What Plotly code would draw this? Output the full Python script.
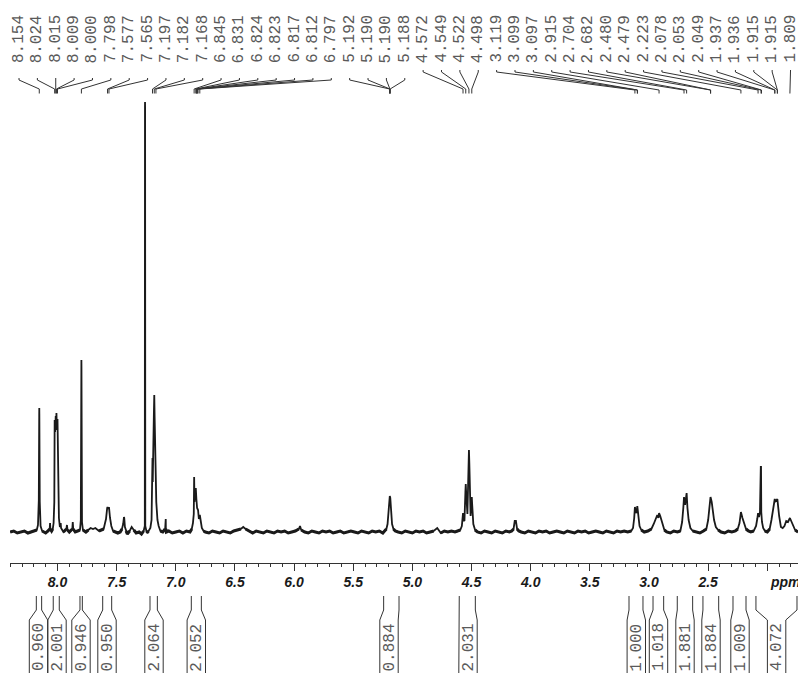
import plotly.graph_objects as go

# spectrum (ppm, height above baseline)
ppm = [8.40, 8.37, 8.34, 8.31, 8.28, 8.25, 8.22, 8.19, 8.175, 8.165, 8.158, 8.1545, 8.154, 8.1535, 8.150, 8.143, 8.13,
       8.10, 8.08, 8.066, 8.063, 8.060, 8.05, 8.04, 8.033, 8.027, 8.024, 8.020, 8.015, 8.012, 8.009, 8.005, 8.000, 7.995, 7.988, 7.98,
       7.975, 7.973, 7.970, 7.95, 7.925, 7.92, 7.915, 7.90, 7.875, 7.871, 7.867, 7.85, 7.83, 7.81, 7.803, 7.7985, 7.798, 7.7975, 7.793, 7.785,
       7.76, 7.74, 7.72, 7.70, 7.68, 7.65, 7.63, 7.61, 7.60, 7.59, 7.58, 7.577, 7.571, 7.565, 7.556, 7.545, 7.53, 7.51,
       7.49, 7.47, 7.455, 7.445, 7.44, 7.438, 7.436, 7.43, 7.42, 7.41, 7.39, 7.373, 7.355, 7.335, 7.31, 7.29, 7.272, 7.262, 7.2605, 7.26, 7.2595, 7.258,
       7.245, 7.23, 7.215, 7.205, 7.199, 7.197, 7.195, 7.185, 7.182, 7.179, 7.171, 7.168, 7.165, 7.155, 7.145, 7.13, 7.11, 7.09, 7.086, 7.085, 7.084, 7.08,
       7.06, 7.03, 7.00, 6.97, 6.94, 6.91, 6.88, 6.865, 6.855, 6.848, 6.845, 6.842, 6.835, 6.831, 6.826, 6.82, 6.812, 6.805, 6.797, 6.79, 6.78, 6.765, 6.75,
       6.72, 6.69, 6.66, 6.63, 6.60, 6.57, 6.54, 6.51, 6.48, 6.45, 6.43, 6.41, 6.38, 6.35, 6.32, 6.29, 6.26, 6.23, 6.20, 6.17, 6.14, 6.11, 6.08, 6.05, 6.02,
       5.99, 5.96, 5.95, 5.94, 5.91, 5.88, 5.85, 5.82, 5.79, 5.76, 5.73, 5.70, 5.67, 5.64, 5.61, 5.58, 5.55, 5.52, 5.49, 5.46, 5.43, 5.40, 5.37, 5.34, 5.31, 5.28, 5.25,
       5.235, 5.22, 5.21, 5.20, 5.195, 5.191, 5.187, 5.182, 5.172, 5.16, 5.145, 5.12, 5.09, 5.06, 5.03, 5.00, 4.97, 4.94, 4.91, 4.88, 4.85, 4.82, 4.79, 4.76, 4.73, 4.70, 4.67, 4.64, 4.61,
       4.595, 4.582, 4.575, 4.572, 4.569, 4.56, 4.552, 4.549, 4.546, 4.535, 4.525, 4.522, 4.519, 4.508, 4.501, 4.498, 4.495, 4.485, 4.47, 4.45,
       4.42, 4.39, 4.36, 4.33, 4.30, 4.27, 4.24, 4.21, 4.18, 4.16, 4.145, 4.135, 4.125, 4.115, 4.10, 4.08,
       4.05, 4.02, 3.99, 3.96, 3.93, 3.90, 3.87, 3.84, 3.81, 3.78, 3.75, 3.72, 3.69, 3.66, 3.63, 3.60, 3.57, 3.54, 3.51, 3.48, 3.45, 3.42, 3.39, 3.36, 3.33, 3.30, 3.27, 3.24, 3.21, 3.18, 3.15,
       3.135, 3.125, 3.119, 3.112, 3.105, 3.099, 3.09, 3.08, 3.065, 3.04, 3.01, 2.98, 2.96, 2.945, 2.93, 2.92, 2.915, 2.905, 2.895, 2.885, 2.87, 2.85, 2.82, 2.79, 2.76, 2.735,
       2.72, 2.71, 2.704, 2.695, 2.688, 2.682, 2.675, 2.665, 2.65, 2.63, 2.60, 2.57, 2.54, 2.515, 2.50, 2.49, 2.48, 2.47, 2.46, 2.45, 2.435, 2.415, 2.39, 2.36, 2.33, 2.30, 2.27,
       2.25, 2.235, 2.223, 2.21, 2.195, 2.18, 2.16, 2.14, 2.115, 2.095, 2.085, 2.078, 2.07, 2.062, 2.055, 2.053, 2.051, 2.045, 2.035, 2.02, 2.00,
       1.98, 1.965, 1.95, 1.937, 1.93, 1.915, 1.90, 1.885, 1.87, 1.855, 1.84, 1.825, 1.809, 1.795, 1.78, 1.765, 1.74]
intensity = [0, 1, -1, 0, 1, -1, 0, 1, 2, 7, 32, 118, 124, 118, 30, 6, 1,
             -1, 1, 3, 9, 3, 1, 3, 9, 30, 112, 100, 116, 106, 119, 102, 113, 34, 14, 5,
             6, 9, 4, 0, 3, 7, 2, 0, 3, 10, 3, 0, 1, 2, 12, 165, 172, 165, 10, 2,
             0, 2, 4, 3, 4, 1, 2, 3, 8, 13, 24, 25, 23, 25, 14, 6, 1, 0,
             -1, 0, 3, 8, 14, 15, 14, 5, 1, -2, 1, 5, 2, -1, 0, -2, 1, 6, 425, 430, 425, 6,
             -1, 1, 4, 12, 60, 74, 50, 120, 137, 115, 52, 72, 30, 12, 6, 1, 0, 3, 13, 13, 3, 0,
             1, -1, 0, 1, -1, 1, 0, 3, 9, 18, 55, 30, 42, 44, 33, 24, 22, 13, 17, 10, 4, 1, 0,
             -1, 1, 0, -1, 1, 0, -1, 1, 2, 3, 5, 3, 1, -1, 1, 0, -1, 1, 0, -1, 1, 0, 1, -1, 0,
             1, 3, 6, 2, 0, -1, 1, 0, -1, 1, 0, 1, -1, 0, 1, -1, 0, 1, 0, -1, 1, 0, -1, 1, 0, 1, -1,
             1, 3, 8, 22, 35, 36, 34, 20, 8, 3, 1, 0, -1, 1, 0, -1, 1, 0, 1, -1, 0, 1, 4, -1, 1, 0, 1, 0, 1,
             2, 6, 12, 19, 12, 11, 40, 48, 40, 18, 72, 82, 70, 16, 28, 35, 28, 8, 2, 0,
             -1, 1, 0, -1, 1, 0, -1, 1, 0, 1, 3, 11, 11, 3, 1, 0,
             -1, 1, 0, -1, 1, 0, 1, -1, 0, 1, 0, -1, 1, 0, -1, 1, 0, 1, -1, 0, 1, 0, -1, 1, 0, -1, 1, 0, 1, 0, 1,
             4, 14, 25, 20, 19, 26, 16, 6, 2, 0, 1, 3, 8, 13, 17, 14, 19, 16, 12, 6, 2, 0, -1, 1, 0, 1,
             10, 24, 35, 27, 33, 39, 24, 12, 4, 1, 0, -1, 1, 3, 12, 22, 35, 30, 20, 12, 5, 2, 0, -1, 1, 0, 1,
             3, 9, 20, 14, 8, 3, 1, 0, 1, 6, 13, 19, 15, 20, 65, 65, 20, 10, 4, 1, 0,
             3, 12, 24, 33, 31, 33, 16, 5, 4, 6, 11, 10, 14, 10, 5, 2, 0]

shift_ticks = [8.0, 7.5, 7.0, 6.5, 6.0, 5.5, 5.0, 4.5, 4.0, 3.5, 3.0, 2.5, 2.0]
shift_ticktext = ["8.0", "7.5", "7.0", "6.5", "6.0", "5.5", "5.0", "4.5", "4.0", "3.5", "3.0", "2.5", ""]

peak_labels = ["8.154", "8.024", "8.015", "8.009", "8.000", "7.798", "7.577", "7.565", "7.197", "7.182", "7.168",
               "6.845", "6.831", "6.824", "6.823", "6.817", "6.812", "6.797", "5.192", "5.190", "5.190", "5.188",
               "4.572", "4.549", "4.522", "4.498", "3.119", "3.099", "3.097", "2.915", "2.704", "2.682", "2.480",
               "2.479", "2.223", "2.078", "2.053", "2.049", "1.937", "1.936", "1.915", "1.915", "1.809"]

integral_values = ["0.960", "2.001", "0.946", "0.950", "2.064", "2.052", "0.884", "2.031",
                   "1.000", "1.018", "1.881", "1.884", "1.009", "4.072"]
integral_from = [8.179, 8.036, 7.810, 7.618, 7.218, 6.869, 5.243, 4.604, 3.169, 2.966, 2.761, 2.544, 2.290, 2.096]
integral_to = [8.134, 7.985, 7.790, 7.542, 7.156, 6.784, 5.113, 4.468, 3.051, 2.876, 2.631, 2.411, 2.180, 1.749]

# page layout in pixels
W, H = 798, 673
PX_PER_PPM = 118.3
BASE_Y = 532
AXIS_Y = 562.5
label_centers = [38.5, 57, 81, 107, 154, 196.3, 389, 468, 636.3, 658.5, 685, 711, 740, 776.6]
GREY = "#5a5a5a"
DARK = "#1a1a1a"


def to_ppm(px):
    return 8.0 + (57.5 - px) / PX_PER_PPM


def to_y(py):
    return BASE_Y - py


# leader lines from the peak labels down to the spectrum positions
lead_x, lead_y = [], []
annotations = []
for i, lab in enumerate(peak_labels):
    lx = to_ppm(19 + 18.37 * i)
    top = 78 if i < 22 else 70
    mid = 89 if i < 26 else 90
    lead_x += [lx, lx, float(lab), float(lab), None]
    lead_y += [to_y(top), to_y(top + 2), to_y(mid), to_y(93.5), None]
    annotations.append(dict(x=lx, y=to_y(39), xref="x", yref="y", text=lab, textangle=-90, showarrow=False,
                            font=dict(family="Liberation Mono", size=16, color=GREY)))

# integral brackets
int_x, int_y = [], []
for val, a, b, c in zip(integral_values, integral_from, integral_to, label_centers):
    left = to_ppm(c - 9.2)
    right = to_ppm(c + 9.2)
    int_x += [a, a, left, left, None, b, b, right, right, None]
    int_y += [to_y(596), to_y(610), to_y(620), to_y(673), None, to_y(596), to_y(610), to_y(620), to_y(673), None]
    annotations.append(dict(x=to_ppm(c), y=to_y(647.5), xref="x", yref="y", text=val, textangle=-90, showarrow=False,
                            font=dict(family="Liberation Mono", size=16, color=GREY)))

annotations.append(dict(x=to_ppm(785), y=to_y(581.7), xref="x", yref="y", text="<b><i>ppm</i></b>", showarrow=False,
                        font=dict(family="Liberation Sans", size=14, color=DARK)))

# the flat part of the trace looks heavier than the peaks
flat = [v if abs(v) <= 3 else None for v in intensity]

fig = go.Figure()
fig.add_trace(go.Scatter(x=ppm, y=intensity, mode="lines", line=dict(color=DARK, width=1.8), cliponaxis=False,
                         hoverinfo="skip"))
fig.add_trace(go.Scatter(x=ppm, y=flat, mode="lines", line=dict(color=DARK, width=3), cliponaxis=False,
                         hoverinfo="skip"))
fig.add_trace(go.Scatter(x=lead_x, y=lead_y, mode="lines", line=dict(color="#333333", width=1), cliponaxis=False,
                         hoverinfo="skip"))
fig.add_trace(go.Scatter(x=int_x, y=int_y, mode="lines", line=dict(color="#333333", width=1), cliponaxis=False,
                         hoverinfo="skip"))

fig.update_layout(
    width=W, height=H, margin=dict(l=0, r=0, t=0, b=0), showlegend=False,
    paper_bgcolor="white", plot_bgcolor="white", annotations=annotations,
    xaxis=dict(domain=[10 / W, 1], range=[to_ppm(10), to_ppm(W)], anchor="free", position=(H - AXIS_Y) / H,
               side="bottom", showgrid=False, zeroline=False, showline=True, linecolor="#333333", linewidth=1,
               tickmode="array", tickvals=shift_ticks, ticktext=[f"<b><i>{t}</i></b>" for t in shift_ticktext],
               ticks="outside", ticklen=7, tickwidth=1, tickcolor="#333333",
               tickfont=dict(family="Liberation Sans", size=14, color=DARK),
               minor=dict(dtick=0.1, ticks="outside", ticklen=3, tickwidth=1, tickcolor="#333333", showgrid=False)),
    yaxis=dict(domain=[0, 1], range=[to_y(H), to_y(0)], visible=False),
)

fig.write_html("out.html", config={"displayModeBar": False}, post_script="document.body.style.margin='0';")
